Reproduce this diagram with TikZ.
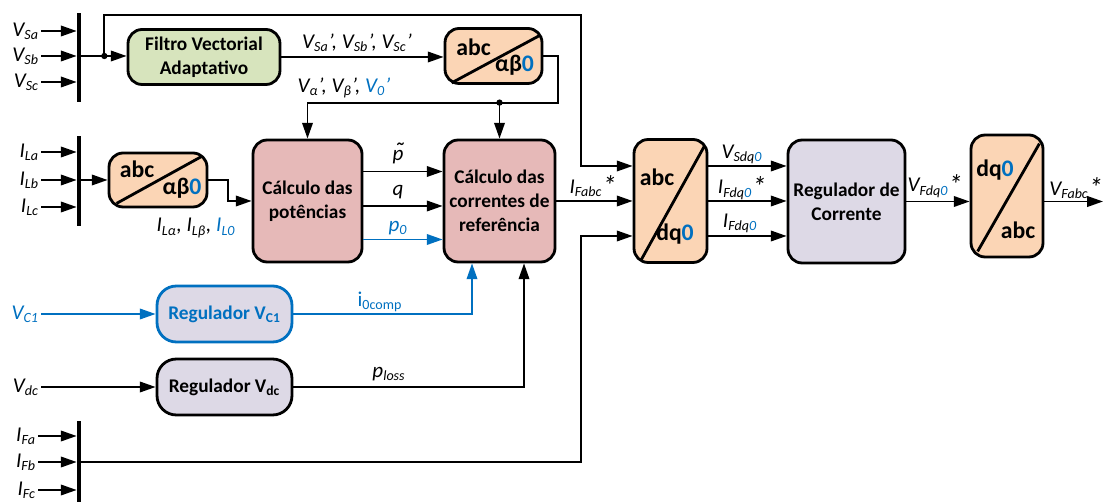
\documentclass[tikz,border=0pt]{standalone}
\usepackage{fontspec}
\setmainfont{Carlito}
\usepackage{xcolor}
\usepackage{tikz}
\usetikzlibrary{arrows.meta,positioning,calc}

\definecolor{azul}{HTML}{0070C0}
\definecolor{verde}{HTML}{D7E4BD}
\definecolor{laranja}{HTML}{FBD5B5}
\definecolor{rosa}{HTML}{E6B9B8}
\definecolor{lilas}{HTML}{DDD9E6}

\newcommand{\sub}[1]{\textsubscript{#1}}
\newcommand{\zr}{\textcolor{azul}{0}}
\newcommand{\estr}{\raisebox{-0.25ex}{\fontsize{16}{16}\selectfont *}}
\newcommand{\ptil}{\ooalign{p\cr\hidewidth\kern0.12em{\fontsize{15}{15}\selectfont\char"02DC}\hidewidth\cr}}

\begin{document}
\begin{tikzpicture}[x=0.02cm,y=-0.02cm,
  blk/.style={rectangle,rounded corners=8pt,draw,line width=1.6pt,align=center,
    font=\fontsize{11}{13.5}\selectfont\bfseries,inner sep=1pt},
  conv/.style={blk,fill=laranja},
  calcbox/.style={blk,fill=rosa,minimum height=2.44cm},
  reg/.style={blk,fill=lilas},
  bus/.style={rectangle,fill=black,inner sep=0pt,minimum width=0.08cm},
  sig/.style={font=\fontsize{12}{14}\selectfont\itshape,inner sep=1pt},
  cvt/.style={font=\fontsize{13.5}{15}\selectfont\bfseries,inner sep=0pt},
  ln/.style={line width=1.1pt},
  arr/.style={ln,-{Triangle[length=9pt,width=6pt]}},
  arrb/.style={arr,azul},
  dia/.style={line width=1.6pt}
]
\useasboundingbox (0,0) rectangle (1104,502);

\node[bus,minimum height=1.78cm] (busS) at (79,57.5) {};
\node[bus,minimum height=1.8cm] (busL) at (79,181) {};
\node[bus,minimum height=1.62cm] (busF) at (79,461.5) {};

\node[sig,anchor=east] (vsa) at (41,31) {V\sub{Sa}};
\node[sig,anchor=east] (vsb) at (41,56) {V\sub{Sb}};
\node[sig,anchor=east] (vsc) at (41,82) {V\sub{Sc}};
\node[sig,anchor=east] (ila) at (41,152) {I\sub{La}};
\node[sig,anchor=east] (ilb) at (41,180) {I\sub{Lb}};
\node[sig,anchor=east] (ilc) at (41,207) {I\sub{Lc}};
\node[sig,anchor=east] (ifa) at (38,436) {I\sub{Fa}};
\node[sig,anchor=east] (ifb) at (38,462) {I\sub{Fb}};
\node[sig,anchor=east] (ifc) at (38,490) {I\sub{Fc}};
\node[sig,anchor=east,azul] (vc1) at (41,314) {V\sub{C1}};
\node[sig,anchor=east] (vdc) at (41,387) {V\sub{dc}};

\draw[arr] (vsa) -- (vsa -| busS.west);
\draw[arr] (vsb) -- (vsb -| busS.west);
\draw[arr] (vsc) -- (vsc -| busS.west);
\draw[arr] (ila) -- (ila -| busL.west);
\draw[arr] (ilb) -- (ilb -| busL.west);
\draw[arr] (ilc) -- (ilc -| busL.west);
\draw[arr] (ifa) -- (ifa -| busF.west);
\draw[arr] (ifb) -- (ifb -| busF.west);
\draw[arr] (ifc) -- (ifc -| busF.west);

\node[blk,fill=verde,minimum width=3.04cm,minimum height=1.1cm] (filtro) at (204,57)
  {Filtro Vectorial\\Adaptativo};
\node[conv,minimum width=1.94cm,minimum height=1.1cm] (conv1) at (493.5,56) {};
\node[cvt] (c1a) at ($(conv1)+(-20,-8.5)$) {abc};
\node[cvt] (c1b) at ($(conv1)+(21,9.5)$) {αβ\zr};
\draw[dia] ($(conv1.south west)+(8,-2)$) -- ($(conv1.north east)+(-3,8)$);

\node[conv,minimum width=1.96cm,minimum height=1.08cm] (conv2) at (158,180) {};
\node[cvt] (c2a) at ($(conv2)+(-21,-11)$) {abc};
\node[cvt] (c2b) at ($(conv2)+(24,8)$) {αβ\zr};
\draw[dia] ($(conv2.south west)+(9,-5)$) -- ($(conv2.north east)+(-7,5)$);

\node[calcbox,minimum width=2.18cm] (pot) at (307.5,201) {Cálculo das\\potências};
\node[calcbox,minimum width=2.22cm] (corr) at (499.5,201) {Cálculo das\\correntes de\\referência};

\node[conv,minimum width=1.46cm,minimum height=2.46cm] (dq) at (670.5,201) {};
\node[cvt] (dqa1) at ($(dq)+(-13.5,-23.5)$) {abc};
\node[cvt] (dqa2) at ($(dq)+(4.5,33.5)$) {dq\zr};
\draw[dia] ($(dq.south west)+(8,-3)$) -- ($(dq.north east)+(-4,8)$);

\node[reg,minimum width=2.34cm,minimum height=2.46cm] (regc) at (846.5,201.5) {Regulador de\\Corrente};

\node[conv,minimum width=1.44cm,minimum height=2.44cm] (inv) at (1007,196) {};
\node[cvt] (inva) at ($(inv)+(-12,-26)$) {dq\zr};
\node[cvt] (invb) at ($(inv)+(11,34)$) {abc};
\draw[dia] ($(inv.south west)+(8,-7)$) -- ($(inv.north east)+(-5,10)$);

\node[reg,draw=azul,text=azul,rounded corners=11pt,minimum width=2.7cm,minimum height=1.12cm]
  (regv1) at (224.5,314) {Regulador V\sub{C1}};
\node[reg,rounded corners=11pt,minimum width=2.7cm,minimum height=1.12cm]
  (regdc) at (224.5,387) {Regulador V\sub{dc}};

\coordinate (tap) at ($(vsb -| busS.east)+(23,0)$);
\coordinate (jn) at ($(corr.north)+(0,-36)$);
\coordinate (dqi1) at ($(dq.west)+(0,-35)$);
\coordinate (dqi3) at ($(dq.west)+(0,35)$);
\coordinate (out) at (1103,201.5);

\draw[arr] (vsb -| busS.east) -- (vsb -| filtro.west);
\fill (tap) circle (1.8pt);
\draw[arr] (tap) -- ++(0,-41) -| ($(dqi1)+(-52,0)$) -- (dqi1);
\draw[arr] (filtro) -- (conv1.west |- filtro);
\draw[arr] (conv1.east) -- ++(15,0) |- (jn) -| (pot.north);
\fill (jn) circle (1.8pt);
\draw[arr] (jn) -- (corr.north);

\draw[arr] (ilb -| busL.east) -- (ilb -| conv2.west);
\draw[arr] (conv2.east) -- ++(20,0) |- (pot.west);

\draw[arr] (pot.east |- 0,171.5) -- (corr.west |- 0,171.5);
\draw[arr] (pot.east |- 0,206) -- (corr.west |- 0,206);
\draw[arrb] (pot.east |- 0,239.5) -- (corr.west |- 0,239.5);

\draw[arr] (corr.east) -- (dq.west);
\draw[arr] (dqi1 -| dq.east) -- (dqi1 -| regc.west);
\draw[arr] (dq.east) -- (dq.east -| regc.west);
\draw[arr] (dqi3 -| dq.east) -- (dqi3 -| regc.west);
\draw[arr] (regc.east) -- (regc.east -| inv.west);
\draw[arr] (regc.east -| inv.east) -- (out);

\draw[arrb] (vc1) -- (regv1);
\draw[arr] (vdc) -- (regdc);
\draw[arrb] (regv1) -| ($(corr.south)+(-27.5,0)$);
\draw[arr] (regdc) -| ($(corr.south)+(24.5,0)$);
\draw[arr] (ifb -| busF.east) -| ($(dqi3)+(-52,0)$) -- (dqi3);

\node[sig] (lvs) at (357,43) {V\sub{Sa}', V\sub{Sb}', V\sub{Sc}'};
\node[sig] (lva) at (344,88) {V\sub{α}', V\sub{β}', \textcolor{azul}{V\sub{0}'}};
\node[sig] (lil) at (196,228) {I\sub{Lα}, I\sub{Lβ}, \textcolor{azul}{I\sub{L0}}};
\node[sig] (lpt) at (398,155) {\ptil};
\node[sig] (lq) at (398,192) {q};
\node[sig,azul] (lp0) at (398,228) {p\sub{0}};
\node[sig] (lif) at (593,186) {I\sub{Fabc}\estr};
\node[sig] (lvsd) at (742,154) {V\sub{Sdq\zr}};
\node[sig] (lifs) at (742,188) {I\sub{Fdq\zr}\estr};
\node[sig] (lifd) at (740,223) {I\sub{Fdq\zr}};
\node[sig] (lvf) at (935,186) {V\sub{Fdq\zr}\estr};
\node[sig] (lvo) at (1076,188) {V\sub{Fabc}\estr};
\node[sig,font=\fontsize{12}{14}\selectfont\upshape,azul] (li0) at (380,302) {i\sub{0comp}};
\node[sig] (lpl) at (389,374) {p\sub{loss}};
\end{tikzpicture}
\end{document}
